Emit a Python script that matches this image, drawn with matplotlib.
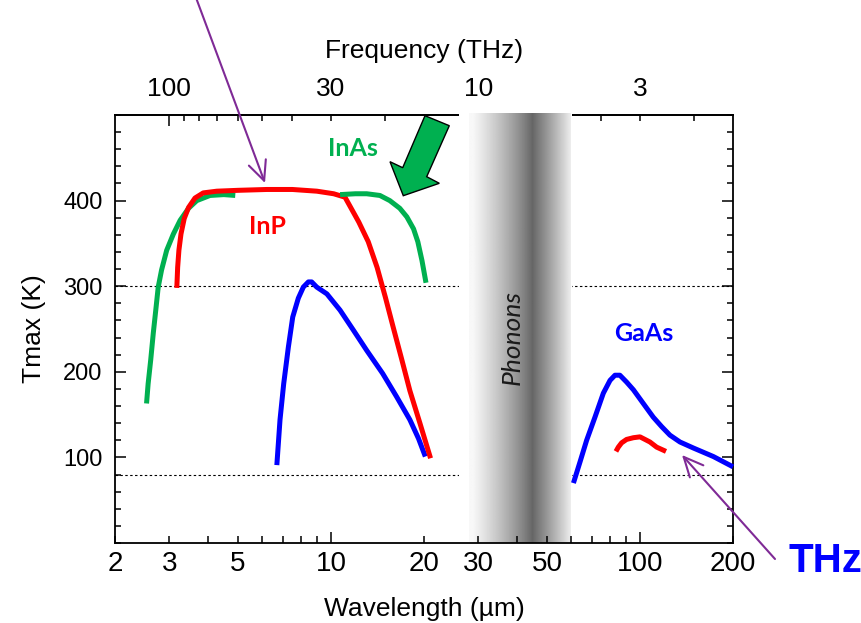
import numpy as np
import matplotlib
matplotlib.use('Agg')
import matplotlib.pyplot as plt
from matplotlib import font_manager
from matplotlib.ticker import FixedLocator, FuncFormatter, MultipleLocator
from matplotlib.patches import Polygon

# ---------------- data (wavelength in um, Tmax in K) ----------------
inas_wl_a = [2.53, 2.56, 2.61, 2.66, 2.71, 2.76, 2.83, 2.94, 3.09, 3.25, 3.46, 3.68, 4.06, 4.5, 4.9]
inas_t_a = [163, 186, 214, 245, 272, 299, 319, 342, 361, 377, 391, 400, 406, 407, 406]
inas_wl_b = [10.7, 12.0, 13.05, 14.4, 15.5, 16.7, 17.6, 18.5, 19.1, 19.7, 20.3]
inas_t_b = [407, 408, 408, 406, 400, 391, 381, 367, 352, 330, 304]

inp_wl = [3.17, 3.19, 3.22, 3.27, 3.35, 3.46, 3.63, 3.86, 4.27, 5.0, 6.2, 7.5, 9.0, 10.2,
          11.1, 11.5, 12.3, 13.2, 14.1, 15.0, 15.9, 16.9, 18.0, 19.4, 21.0]
inp_t = [298, 322, 342, 361, 379, 392, 403, 409, 411, 412, 413, 413, 411, 408,
         404, 394, 375, 352, 322, 287, 252, 216, 178, 140, 99]

gaas_wl_a = [6.68, 6.84, 7.03, 7.28, 7.52, 7.84, 8.14, 8.45, 8.66, 8.99, 9.7, 10.7, 11.8,
             13.05, 14.7, 16.3, 18.0, 19.2, 20.2]
gaas_t_a = [91, 144, 186, 229, 264, 286, 299, 305, 305, 299, 291, 272, 249,
            225, 198, 171, 144, 122, 101]

gaas_wl_b = [60.9, 64.0, 67.2, 71.5, 76.1, 80.0, 83.0, 86.1, 90.5, 95.2, 102.5, 110.4,
             117.5, 125.0, 134.7, 148.8, 172.8, 200]
gaas_t_b = [70, 95, 120, 147, 175, 190, 196, 196, 188, 179, 163, 147,
            136, 126, 118, 111, 101, 89]

inp_thz_wl = [83.6, 85.1, 87.2, 90.5, 95.2, 100.0, 103.8, 107.7, 113.2, 121.4]
inp_thz_t = [107, 112, 117, 121, 123, 124, 121, 118, 112, 107]

ref_levels = [300, 80]
phonon_band = [27.2, 59.4]

bottom_labels = [2, 3, 5, 10, 20, 30, 50, 100, 200]
top_labels = [100, 30, 10, 3]

GREEN = '#00B050'
RED = '#FF0000'
BLUE = '#0000FF'
PURPLE = '#7F2A96'


def has_font(name):
    try:
        font_manager.findfont(name, fallback_to_default=False)
        return True
    except Exception:
        return False


NARROW = 'Liberation Sans Narrow' if has_font('Liberation Sans Narrow') else 'Liberation Sans'
SANS = 'Liberation Sans'
BOLDF = 'Lato' if has_font('Lato') else 'DejaVu Sans'

plt.rcParams['font.family'] = [SANS, 'DejaVu Sans']

W, H = 861, 623
fig = plt.figure(figsize=(W / 100, H / 100), dpi=100)
ax = fig.add_axes([115 / W, 1 - 543 / H, (733 - 115) / W, (543 - 115) / H])
ax.set_xscale('log')
ax.set_xlim(2, 200)
ax.set_ylim(0, 500)

# reference dotted lines
for lv in ref_levels:
    ax.axhline(lv, color='black', lw=0.8, ls=(0, (2.2, 2.2)), zorder=0.4)

# phonon band gradient
lo, hi = phonon_band
ext_lo, ext_hi = lo * 0.955, hi * 1.02
n = 400
u = np.linspace(np.log10(ext_lo), np.log10(ext_hi), n)
lam = 10 ** u
cen = 10 ** ((np.log10(lo) + np.log10(hi)) / 2 + 0.01)
half = (np.log10(hi) - np.log10(lo)) / 2
d = np.abs(np.log10(lam) - np.log10(cen)) / half
val = 0.40 + 0.57 * np.clip(d, 0, 1) ** 0.95
val[(lam < lo) | (lam > hi)] = 1.0
img = np.tile(val, (2, 1))
ax.imshow(img, cmap='gray', vmin=0, vmax=1, aspect='auto',
          extent=[ext_lo, ext_hi, 0, 500], zorder=0.5, interpolation='bilinear')
ax.imshow(img, cmap='gray', vmin=0, vmax=1, aspect='auto',
          extent=[ext_lo, ext_hi, 496, 503], zorder=3.5, interpolation='bilinear',
          clip_on=False)

# curves
lw = 3.6
kw = dict(lw=lw, solid_capstyle='butt', solid_joinstyle='round')
ax.plot(inas_wl_a, inas_t_a, color=GREEN, zorder=3, **kw)
ax.plot(inp_wl, inp_t, color=RED, zorder=3.1, **kw)
ax.plot(inas_wl_b, inas_t_b, color=GREEN, zorder=3.2, **kw)
ax.plot(gaas_wl_a, gaas_t_a, color=BLUE, zorder=3, **kw)
ax.plot(gaas_wl_b, gaas_t_b, color=BLUE, zorder=3, clip_on=False, **kw)
ax.plot(inp_thz_wl, inp_thz_t, color=RED, zorder=3, **kw)

# bottom axis ticks
fmt_all = FuncFormatter(lambda v, p: f'{v:g}' if any(abs(v - b) < 1e-6 for b in bottom_labels) else '')
ax.xaxis.set_major_locator(FixedLocator([10, 100]))
ax.xaxis.set_minor_locator(FixedLocator([2, 3, 4, 5, 6, 7, 8, 9, 20, 30, 40, 50, 60, 70, 80, 90, 200]))
ax.xaxis.set_major_formatter(fmt_all)
ax.xaxis.set_minor_formatter(fmt_all)
ax.tick_params(axis='x', which='both', direction='in', top=False, bottom=True,
               width=1.1, labelsize=20, pad=6, labelfontfamily=NARROW)
ax.tick_params(axis='x', which='major', length=8)
ax.tick_params(axis='x', which='minor', length=5)

# y axis ticks
ax.yaxis.set_major_locator(FixedLocator([100, 200, 300, 400]))
ax.yaxis.set_minor_locator(MultipleLocator(20))
ax.tick_params(axis='y', which='both', direction='in', left=True, right=True,
               width=1.1, labelsize=17, pad=9)
ax.tick_params(axis='y', which='major', length=8)
ax.tick_params(axis='y', which='minor', length=4.5)

for s in ax.spines.values():
    s.set_linewidth(1.3)

ax.set_xlabel('Wavelength (\u00b5m)', fontsize=19, labelpad=14, family=[NARROW, SANS])
ax.set_ylabel('Tmax (K)', fontsize=19, labelpad=12)

# top frequency axis
secax = ax.secondary_xaxis('top', functions=(lambda x: 300.0 / x, lambda x: 300.0 / x))
fmt_top = FuncFormatter(lambda v, p: f'{v:g}' if any(abs(v - b) < 1e-6 for b in top_labels) else '')
secax.xaxis.set_major_locator(FixedLocator([100, 10]))
secax.xaxis.set_minor_locator(FixedLocator([90, 80, 70, 60, 50, 40, 30, 20, 9, 8, 7, 6, 5, 4, 3, 2]))
secax.xaxis.set_major_formatter(fmt_top)
secax.xaxis.set_minor_formatter(fmt_top)
secax.tick_params(which='both', direction='in', width=1.1, labelsize=19, pad=10,
                  labelfontfamily=NARROW)
secax.tick_params(which='major', length=8)
secax.tick_params(which='minor', length=4.5)
secax.spines['top'].set_linewidth(1.3)
secax.set_xlabel('Frequency (THz)', fontsize=19, labelpad=14, family=[NARROW, SANS])

# text labels
ax.text(11.8, 461, 'InAs', color=GREEN, fontsize=18, fontweight='bold', family=BOLDF,
        ha='center', va='center', zorder=5)
ax.text(6.23, 370, 'InP', color=RED, fontsize=18, fontweight='bold', family=BOLDF,
        ha='center', va='center', zorder=5)
ax.text(103, 245, 'GaAs', color=BLUE, fontsize=18, fontweight='bold', family=BOLDF,
        ha='center', va='center', zorder=5)
ax.text(38.7, 240, 'Phonons', color='#1a1a1a', fontsize=19, style='italic', family=BOLDF,
        rotation=90, ha='center', va='center', zorder=5)
fig.text(825 / W, 1 - 561 / H, 'THz', color=BLUE, fontsize=29, fontweight='bold',
         family=[NARROW, SANS], ha='center', va='center')

# arrows (figure pixel coordinates, origin bottom-left)
def fp(x, y):
    return (x, H - y)

ax.annotate('', xy=fp(265, 183), xycoords='figure pixels', xytext=fp(195, -5),
            textcoords='figure pixels', annotation_clip=False,
            arrowprops=dict(arrowstyle='->,head_length=1.4,head_width=0.65', color=PURPLE,
                            lw=1.5, shrinkA=0, shrinkB=0))
ax.annotate('', xy=fp(682, 455), xycoords='figure pixels', xytext=fp(775, 559),
            textcoords='figure pixels', annotation_clip=False,
            arrowprops=dict(arrowstyle='->,head_length=1.4,head_width=0.65', color=PURPLE,
                            lw=1.5, shrinkA=0, shrinkB=0))

green_arrow_px = [(425, 115.7), (449.3, 125.7), (426.7, 176.7), (439.3, 183.3),
                  (403.3, 195.7), (390, 161.7), (402.7, 167.7)]
poly = Polygon([(x / W, 1 - y / H) for x, y in green_arrow_px], closed=True,
               transform=fig.transFigure, facecolor=GREEN, edgecolor='black', lw=1.0,
               zorder=10)
fig.add_artist(poly)

fig.savefig('out.png', dpi=100)
